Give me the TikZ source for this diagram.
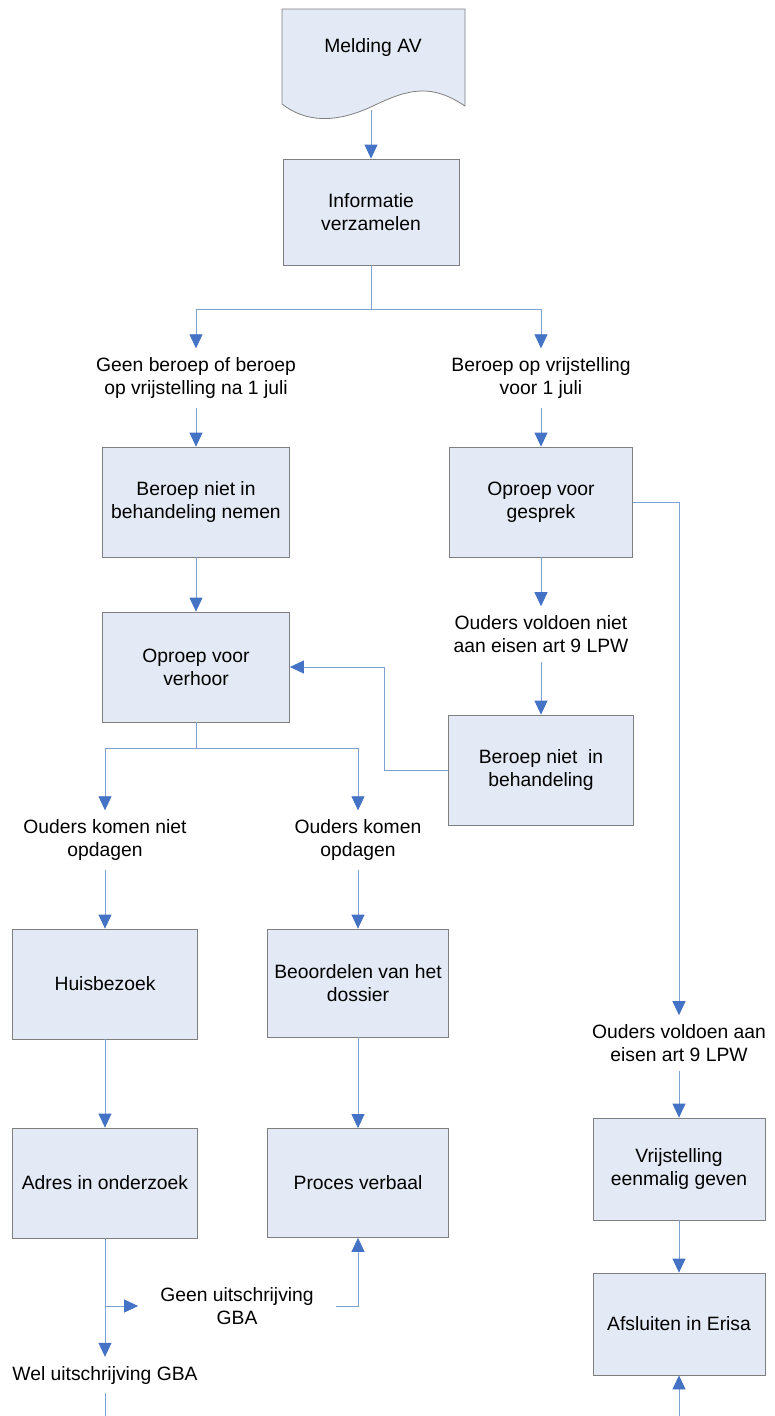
\documentclass[tikz,border=0pt]{standalone}
\usepackage{fontspec}
\setmainfont{Liberation Sans}
\usepackage{tikz}
\usetikzlibrary{arrows.meta}
\usetikzlibrary{calc}
\usetikzlibrary{positioning}
\definecolor{flow-fill}{HTML}{E3EAF5}
\definecolor{flow-rand}{HTML}{7F7F7F}
\definecolor{flow-lijn}{HTML}{7FA1D2}
\definecolor{flow-pijl}{HTML}{4472C4}

\begin{document}
\begin{tikzpicture}[x=1pt, y=-1pt, line cap=butt, line join=miter,
    every node/.style={font=\fontsize{19.3}{23}\selectfont, align=center},
    stap/.style={draw=flow-rand, fill=flow-fill, line width=0.8pt, minimum width=187pt, minimum height=110pt, inner sep=2pt},
    keuze/.style={inner xsep=4pt, inner ysep=9pt},
    lijn/.style={draw=flow-lijn, line width=0.8pt},
    pijl/.style={lijn, -{Triangle[length=14pt, width=13pt, color=flow-pijl]}}]
    % frame
    \useasboundingbox (0,0) rectangle (774,1416);

    % melding (document)
    \draw[draw=flow-rand, fill=flow-fill, line width=0.8pt]
    (282,9) -- (465,9) -- (465,106) .. controls (432,84) and (410,88) .. (373,106)
    .. controls (335,124) and (305,122) .. (282,104) -- cycle;
    \node (melding) at (373,48) {Melding AV};
    \coordinate (meldingvoet) at (371,110);

    % informatie
    \node[stap, minimum width=176pt, minimum height=106pt] (info) at (371,212) {Informatie\\verzamelen};
    \draw[pijl] (meldingvoet) -- (info.north);

    % eerste splitsing
    \node[keuze] (najuli) at (196,378) {Geen beroep of beroep\\op vrijstelling na 1 juli};
    \node[keuze] (voorjuli) at (541,378) {Beroep op vrijstelling\\voor 1 juli};
    \draw[lijn] (info.south) -- (371,309) coordinate (splits1);
    \draw[pijl] (splits1) -| (najuli.north);
    \draw[pijl] (splits1) -| (voorjuli.north);

    % linkertak
    \node[stap] (nemen) at (196,502) {Beroep niet in\\behandeling nemen};
    \node[stap] (verhoor) at (196,667) {Oproep voor\\verhoor};
    \draw[pijl] (najuli.south) -- (nemen.north);
    \draw[pijl] (nemen.south) -- (verhoor.north);

    % rechtertak
    \node[stap, minimum width=183pt] (gesprek) at (541,502) {Oproep voor\\gesprek};
    \node[keuze] (voldoetniet) at (541,634) {Ouders voldoen niet\\aan eisen art 9 LPW};
    \node[stap, minimum width=185pt] (nietbeh) at (541,770) {Beroep niet~ in\\behandeling};
    \draw[pijl] (voorjuli.south) -- (gesprek.north);
    \draw[pijl] (gesprek.south) -- (voldoetniet.north);
    \draw[pijl] (voldoetniet.south) -- (nietbeh.north);
    \draw[pijl] (nietbeh.west) -- ++(-64,0) |- (verhoor.east);

    % vrijstelling
    \node[keuze] (voldoetwel) at (679,1043) {Ouders voldoen aan\\eisen art 9 LPW};
    \node[stap, minimum width=172pt, minimum height=102pt] (vrijst) at (679,1169) {Vrijstelling\\eenmalig geven};
    \node[stap, minimum width=172pt, minimum height=102pt] (erisa) at (679,1324) {Afsluiten in Erisa};
    \draw[pijl] (gesprek.east) -| (voldoetwel.north);
    \draw[pijl] (voldoetwel.south) -- (vrijst.north);
    \draw[pijl] (vrijst.south) -- (erisa.north);
    \coordinate (erisavoet) at (679,1416);
    \draw[pijl] (erisavoet) -- (erisa.south);

    % verhoor splitsing
    \node[keuze] (nietop) at (105,840) {Ouders komen niet\\opdagen};
    \node[keuze] (welop) at (358,840) {Ouders komen\\opdagen};
    \draw[lijn] (verhoor.south) -- (196,748) coordinate (splits2);
    \draw[pijl] (splits2) -| (nietop.north);
    \draw[pijl] (splits2) -| (welop.north);

    % huisbezoek
    \node[stap, minimum width=185pt] (huis) at (105,984) {Huisbezoek};
    \node[stap, minimum width=185pt] (adres) at (105,1183) {Adres in onderzoek};
    \draw[pijl] (nietop.south) -- (huis.north);
    \draw[pijl] (huis.south) -- (adres.north);

    % dossier
    \node[stap, minimum width=181pt, minimum height=108pt] (dossier) at (358,983) {Beoordelen van het\\dossier};
    \node[stap, minimum width=181pt, minimum height=109pt] (proces) at (358,1183) {Proces verbaal};
    \draw[pijl] (welop.south) -- (dossier.north);
    \draw[pijl] (dossier.south) -- (proces.north);

    % uitschrijving
    \node[keuze, inner xsep=22pt] (geengba) at (237,1306) {Geen uitschrijving\\GBA};
    \node[keuze] (welgba) at (105,1375) {Wel uitschrijving GBA};
    \draw[lijn] (adres.south) -- (105,1306) coordinate (splits3);
    \draw[pijl] (splits3) -- (geengba.west);
    \draw[pijl] (splits3) -- (welgba.north);
    \draw[pijl] (geengba.east) -| (proces.south);
    \coordinate (welvoet) at (105,1416);
    \draw[lijn] (welgba.south) -- (welvoet);

\end{tikzpicture}
\end{document}
